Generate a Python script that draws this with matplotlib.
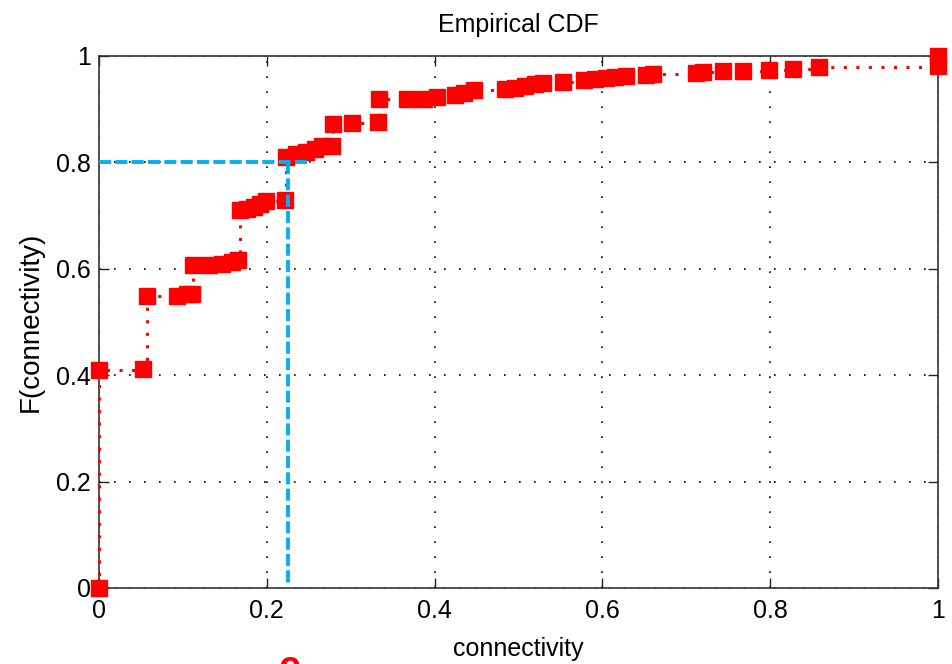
import matplotlib
matplotlib.use("Agg")
import matplotlib.pyplot as plt

plt.rcParams['font.family'] = ['Liberation Sans', 'DejaVu Sans']

# empirical CDF points (connectivity, F)
conn = [0.0, 0.0, 0.052, 0.057, 0.093, 0.105, 0.111, 0.112, 0.131, 0.146, 0.158,
        0.166, 0.168, 0.176, 0.185, 0.192, 0.199, 0.222, 0.223, 0.235, 0.247,
        0.258, 0.266, 0.278, 0.279, 0.302, 0.333, 0.334, 0.367, 0.387, 0.403,
        0.424, 0.435, 0.447, 0.484, 0.496, 0.508, 0.520, 0.529, 0.553, 0.578,
        0.591, 0.604, 0.615, 0.628, 0.652, 0.660, 0.711, 0.720, 0.744, 0.768,
        0.799, 0.827, 0.858, 1.0, 1.0]
cdf = [0.0, 0.41, 0.412, 0.548, 0.549, 0.552, 0.553, 0.607, 0.607, 0.609, 0.613,
       0.617, 0.710, 0.713, 0.717, 0.722, 0.727, 0.729, 0.810, 0.815, 0.820,
       0.826, 0.830, 0.831, 0.872, 0.874, 0.876, 0.919, 0.919, 0.920, 0.922,
       0.927, 0.931, 0.936, 0.937, 0.940, 0.944, 0.948, 0.950, 0.952, 0.955,
       0.957, 0.959, 0.961, 0.963, 0.965, 0.967, 0.968, 0.970, 0.971, 0.972,
       0.973, 0.976, 0.979, 0.981, 1.0]

x_mark = 0.2253   # blue guide at F = 0.8
y_mark = 0.8
ticks = [0, 0.2, 0.4, 0.6, 0.8, 1]
tick_labels = ['0', '0.2', '0.4', '0.6', '0.8', '1']

fig = plt.figure(figsize=(9.53, 6.64), dpi=100)
ax = fig.add_axes([0.1039, 0.1145, 0.8804, 0.8012])

red = '#ff0000'
ax.plot(conn, cdf, drawstyle='steps-post', color=red, linewidth=2.2,
        linestyle=(0, (1.0, 3.1)), marker='s', markersize=11,
        markerfacecolor=red, markeredgecolor=red, clip_on=False, zorder=3)

blue = '#00b0f0'
ax.plot([0, 0.248], [y_mark, y_mark], color=blue, linewidth=2.8,
        linestyle=(0, (3.1, 1.1)), zorder=4, clip_on=False)
ax.plot([x_mark, x_mark], [y_mark, 0.005], color=blue, linewidth=2.8,
        linestyle=(0, (3.1, 1.1)), zorder=4)

ax.set_xlim(0, 1)
ax.set_ylim(0, 1)
ax.set_xticks(ticks)
ax.set_xticklabels(tick_labels)
ax.set_yticks(ticks)
ax.set_yticklabels(tick_labels)
ax.tick_params(direction='in', length=7, width=1, top=True, right=True,
               labelsize=18, colors='#222222', labelcolor='black')
ax.tick_params(axis='x', pad=8)
ax.tick_params(axis='y', pad=6)
ax.grid(True, color='black', linestyle=(0, (1, 8)), linewidth=1.2)
for s in ax.spines.values():
    s.set_color('#333333')
    s.set_linewidth(1.2)

ax.set_title('Empirical CDF', fontsize=18, pad=17)
ax.set_xlabel('connectivity', fontsize=18, labelpad=10)
ax.set_ylabel('F(connectivity)', fontsize=20, labelpad=9)

# partial red caption cut off at the bottom edge
fig.text(289 / 953, -0.021, 'c', color=red, fontsize=28, fontweight='bold',
         ha='center', va='baseline')

fig.savefig('out.png', dpi=100)
